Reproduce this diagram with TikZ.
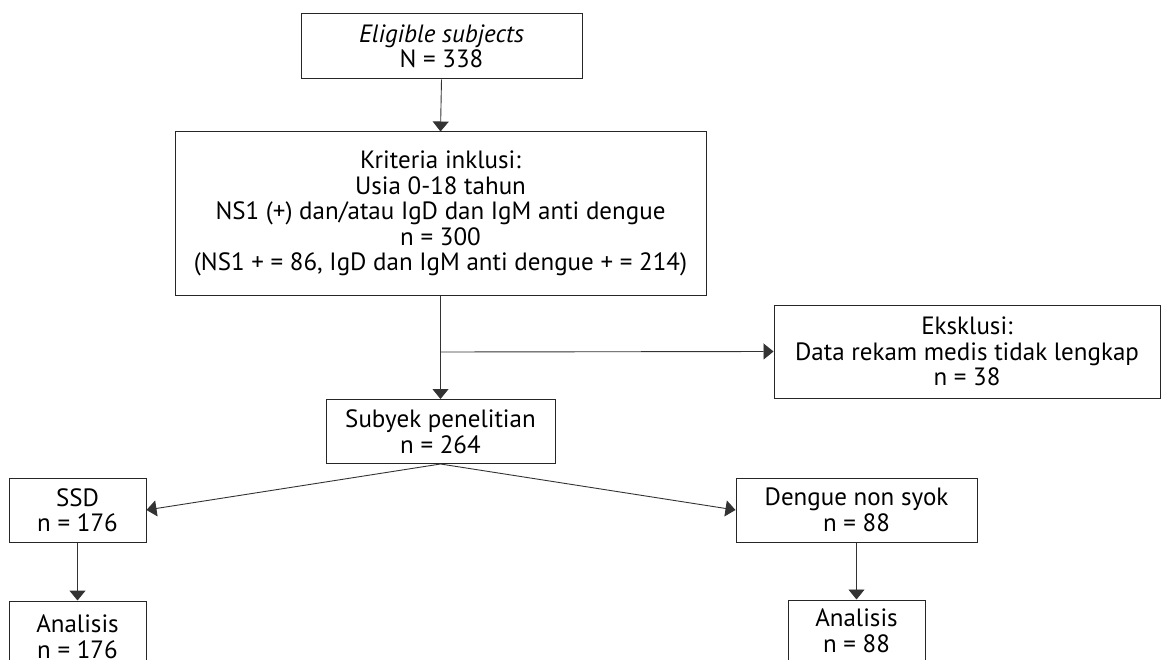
\documentclass[tikz,border=0pt]{standalone}
\usepackage{fontspec}
\setmainfont{PT Sans}
\usetikzlibrary{arrows.meta}
\tikzset{
  box/.style={draw=black!85, line width=1pt, rectangle, inner sep=0pt, align=center,
    font=\fontsize{25}{25.5}\selectfont},
  arr/.style={draw=black!80, line width=0.9pt, -{Triangle[length=10pt,width=16pt]}},
  ln/.style={draw=black!80, line width=0.9pt}
}
\begin{document}
\begin{tikzpicture}[x=1pt,y=-1pt]
\clip (0,0) rectangle (1161,660);
\fill[white] (0,0) rectangle (1161,660);
\node[box, minimum width=281pt, minimum height=65pt] (elig) at (441.5,46.5) {\textit{Eligible subjects}\\N = 338};
\node[box, minimum width=531pt, minimum height=163pt] (krit) at (440.5,213.5) {Kriteria inklusi:\\Usia 0-18 tahun\\NS1 (+) dan/atau IgD dan IgM anti dengue\\n = 300\\(NS1 + = 86, IgD dan IgM anti dengue + = 214)};
\node[box, minimum width=386pt, minimum height=93pt] (eks) at (967,351.5) {Eksklusi:\\Data rekam medis tidak lengkap\\n = 38};
\node[box, minimum width=229pt, minimum height=64pt] (sub) at (440.5,431.5) {Subyek penelitian\\n = 264};
\node[box, minimum width=137pt, minimum height=64pt] (ssd) at (77.5,510) {SSD\\n = 176};
\node[box, minimum width=241pt, minimum height=64pt] (dns) at (856.5,510) {Dengue non syok\\n = 88};
\node[box, minimum width=137pt, minimum height=72pt] (an1) at (77.5,637) {Analisis\\n = 176};
\node[box, minimum width=137pt, minimum height=62pt] (an2) at (856.5,631) {Analisis\\n = 88};
\coordinate (br) at (440.5,352);
\draw[arr] (elig.south) -- (krit.north);
\draw[arr] (krit.south) -- (sub.north);
\draw[arr] (br) -- (eks.west);
\draw[arr] (sub.south) -- (ssd.east);
\draw[arr] (sub.south) -- (dns.west);
\draw[arr, line width=1.6pt] (ssd.south) -- (an1.north);
\draw[arr] (dns.south) -- (an2.north);
\end{tikzpicture}
\end{document}
